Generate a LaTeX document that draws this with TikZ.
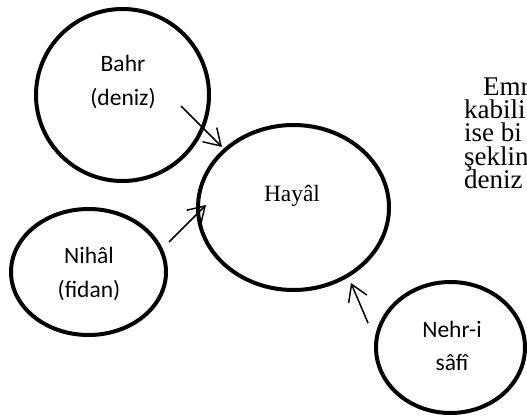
\documentclass[tikz,border=0pt]{standalone}
\usepackage{fontspec}
\setmainfont{Liberation Serif}
\newfontfamily\calfont{Carlito}
\newfontfamily\bodyfont{Liberation Serif}
\usetikzlibrary{arrows.meta,shapes.geometric}
\begin{document}
\begin{tikzpicture}[x=1pt,y=-1pt,
  ring/.style={draw=black, line width=4pt, ellipse, inner sep=0pt},
  cal/.style={inner sep=0pt, anchor=base, font=\calfont\fontsize{23.5pt}{28pt}\selectfont},
  serif/.style={inner sep=0pt, anchor=base, font=\bodyfont\fontsize{23.4pt}{28pt}\selectfont},
  bodyline/.style={inner sep=0pt, anchor=base west, text height=16pt, text depth=4pt,
    font=\bodyfont\fontsize{27pt}{23pt}\selectfont},
  arr/.style={line width=1.5pt, -{Straight Barb[length=16pt,width=20pt,line width=1.5pt]}}]
\useasboundingbox (0,0) rectangle (527,417);
\clip (0,0) rectangle (527,417);

% circles
\node[ring, minimum width=173pt, minimum height=172pt] (bahr)  at (122.5,95) {};
\node[ring, minimum width=191pt, minimum height=165pt] (hayal) at (293.5,207.5) {};
\node[ring, minimum width=155pt, minimum height=126pt] (nihal) at (88.5,272) {};
\node[ring, minimum width=149pt, minimum height=131pt] (nehr)  at (450.5,347.5) {};

% labels
\node[cal] (bahrA) at (123,72) {Bahr};
\node[cal] (bahrB) at (123,106) {(deniz)};
\node[serif] (hayalA) at (292,201) {Hayâl};
\node[cal] (nihalA) at (89,263) {Nihâl};
\node[cal] (nihalB) at (89,297) {(fidan)};
\node[cal] (nehrA) at (452,337) {Nehr-i};
\node[cal] (nehrB) at (452,370) {sâfî};

% arrow ends
\coordinate (bahrTail) at (181,106);
\coordinate (bahrTip) at (222,147);
\coordinate (nihalTail) at (169,242);
\coordinate (nihalTip) at (206,205);
\coordinate (nehrTail) at (368,323);
\coordinate (nehrTip) at (351,283);

\draw[arr] (bahrTail) -- (bahrTip);
\draw[arr] (nihalTail) -- (nihalTip);
\draw[arr] (nehrTail) -- (nehrTip);

% paragraph running off the right edge
\node[bodyline] (p1) at (483,96) {Emr};
\node[bodyline] (p2) at (464,119) {kabili};
\node[bodyline] (p3) at (464,142) {ise bi};
\node[bodyline] (p4) at (464,165) {şeklin};
\node[bodyline] (p5) at (464,188) {deniz};
\end{tikzpicture}
\end{document}
